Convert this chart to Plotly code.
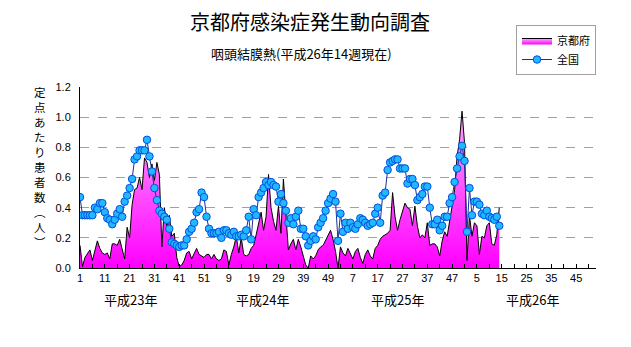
import plotly.graph_objects as go

# ---------------- data ----------------
weeks = list(range(1, 171))  # continuous week index: 平成23年第1週 .. 平成26年第14週

kyoto = [
    0.15, 0.01, 0.07, 0.10, 0.12, 0.05, 0.12, 0.18, 0.13, 0.10,
    0.09, 0.10, 0.06, 0.16, 0.16, 0.15, 0.19, 0.13, 0.06, 0.27,
    0.20, 0.42, 0.52, 0.53, 0.60, 0.52, 0.73, 0.70, 0.60, 0.69,
    0.58, 0.70, 0.62, 0.14, 0.40, 0.28, 0.35, 0.21, 0.23, 0.07,
    0.01, 0.02, 0.05, 0.10, 0.11, 0.06, 0.10, 0.13, 0.09, 0.08,
    0.07, 0.09, 0.09, 0.06, 0.09, 0.06, 0.05, 0.06, 0.12, 0.11,
    0.02, 0.09, 0.14, 0.21, 0.10, 0.20, 0.09, 0.08, 0.09, 0.13,
    0.15, 0.22, 0.30, 0.37, 0.25, 0.34, 0.62, 0.40, 0.31, 0.25,
    0.41, 0.23, 0.59, 0.34, 0.12, 0.16, 0.19, 0.12, 0.19, 0.14,
    0.08, 0.02, 0.00, 0.08, 0.06, 0.08, 0.12, 0.14, 0.15, 0.18,
    0.22, 0.25, 0.19, 0.11, 0.00, 0.14, 0.10, 0.08, 0.13, 0.09,
    0.06, 0.11, 0.13, 0.07, 0.03, 0.09, 0.12, 0.08, 0.06, 0.13,
    0.15, 0.19, 0.21, 0.22, 0.23, 0.25, 0.50, 0.34, 0.25, 0.32,
    0.37, 0.43, 0.40, 0.39, 0.28, 0.41, 0.28, 0.20, 0.22, 0.20,
    0.30, 0.15, 0.16, 0.16, 0.14, 0.08, 0.18, 0.24, 0.21, 0.30,
    0.41, 0.52, 0.74, 0.85, 1.04, 0.83, 0.05, 0.35, 0.21, 0.30,
    0.28, 0.09, 0.21, 0.20, 0.28, 0.30, 0.16, 0.15, 0.22, 0.40,
]

national = [
    0.47, 0.35, 0.35, 0.35, 0.35, 0.35, 0.40, 0.39, 0.43, 0.43,
    0.37, 0.33, 0.32, 0.29, 0.32, 0.36, 0.39, 0.34, 0.44, 0.48,
    0.53, 0.59, 0.72, 0.74, 0.78, 0.78, 0.78, 0.85, 0.74, 0.64,
    0.53, 0.45, 0.38, 0.36, 0.34, 0.32, 0.26, 0.17, 0.16, 0.15,
    0.14, 0.15, 0.15, 0.19, 0.24, 0.26, 0.30, 0.37, 0.39, 0.50,
    0.47, 0.34, 0.26, 0.23, 0.23, 0.23, 0.24, 0.20, 0.25, 0.25,
    0.23, 0.22, 0.24, 0.21, 0.21, 0.22, 0.21, 0.25, 0.34, 0.19,
    0.39, 0.35, 0.47, 0.50, 0.53, 0.57, 0.55, 0.57, 0.55, 0.54,
    0.44, 0.49, 0.43, 0.38, 0.30, 0.33, 0.29, 0.34, 0.38, 0.26,
    0.26, 0.21, 0.15, 0.18, 0.21, 0.19, 0.27, 0.30, 0.33, 0.38,
    0.43, 0.46, 0.49, 0.44, 0.18, 0.36, 0.24, 0.30, 0.26, 0.30,
    0.27, 0.26, 0.29, 0.33, 0.32, 0.30, 0.28, 0.29, 0.30, 0.36,
    0.40, 0.30, 0.48, 0.50, 0.65, 0.70, 0.71, 0.72, 0.72, 0.66,
    0.66, 0.66, 0.56, 0.59, 0.59, 0.55, 0.45, 0.47, 0.49, 0.54,
    0.54, 0.40, 0.29, 0.29, 0.32, 0.25, 0.28, 0.34, 0.34, 0.43,
    0.47, 0.57, 0.66, 0.74, 0.81, 0.71, 0.24, 0.53, 0.35, 0.44,
    0.44, 0.42, 0.36, 0.35, 0.38, 0.34, 0.33, 0.32, 0.34, 0.28,
]

tick_positions = list(range(1, 210, 5))
tick_labels = ["1", "11", "21", "31", "41", "51", "9", "19", "29", "39", "49",
               "7", "17", "27", "37", "47", "5", "15", "25", "35", "45"]
year_labels = ["平成23年", "平成24年", "平成25年", "平成26年"]
y_title_chars = ["定", "点", "あ", "た", "り", "患", "者", "数", "︵", "人", "︶"]

# ---------------- layout helpers ----------------
W, H = 631, 347
L, R, T, B = 80, 35, 87, 79
PW, PH = W - L - R, H - T - B


def px_x(x):
    return (x - L) / PW


def px_y(y):
    return (H - B - y) / PH


CJK = "Noto Sans CJK JP"

ticktext = []
k = 0
for i, v in enumerate(tick_positions):
    if i % 2 == 0 and k < len(tick_labels):
        ticktext.append(tick_labels[k])
        k += 1
    else:
        ticktext.append("")

fig = go.Figure()

fig.add_trace(go.Scatter(
    x=weeks, y=kyoto, name="京都府", mode="lines",
    line=dict(color="#000000", width=1),
    fill="tozeroy",
    fillgradient=dict(type="vertical", start=0, stop=1.05,
                      colorscale=[[0, "#ff00ff"], [1, "#ffa8ff"]]),
))

fig.add_trace(go.Scatter(
    x=weeks, y=national, name="全国", mode="lines+markers",
    line=dict(color="#1a2f9a", width=1),
    marker=dict(symbol="circle", size=7.5, color="#22b8ff",
                line=dict(color="#0050e0", width=1)),
))

annotations = [
    dict(text="京都府感染症発生動向調査", x=px_x(310), y=px_y(22), xref="paper", yref="paper",
         showarrow=False, font=dict(family=CJK, size=20, color="#000"),
         xanchor="center", yanchor="middle"),
    dict(text="咽頭結膜熱(平成26年14週現在)", x=px_x(301), y=px_y(54), xref="paper", yref="paper",
         showarrow=False, font=dict(family=CJK, size=13, color="#000"),
         xanchor="center", yanchor="middle"),
]
year_centers = [130, 262.5, 397, 532]
for lab, cx in zip(year_labels, year_centers):
    annotations.append(dict(text=lab, x=px_x(cx), y=px_y(299), xref="paper", yref="paper",
                            showarrow=False, font=dict(family=CJK, size=13, color="#000"),
                            xanchor="center", yanchor="middle"))
annotations.append(dict(text="<br>".join(y_title_chars), x=px_x(40), y=px_y(167),
                        xref="paper", yref="paper", showarrow=False,
                        font=dict(family=CJK, size=11.5, color="#000"),
                        xanchor="center", yanchor="middle", align="center"))

fig.update_layout(
    width=W, height=H,
    margin=dict(l=L, r=R, t=T, b=B, pad=0),
    paper_bgcolor="#ffffff", plot_bgcolor="#ffffff",
    showlegend=True,
    legend=dict(x=px_x(516), y=px_y(25), xanchor="left", yanchor="top",
                bordercolor="#a0a0a0", borderwidth=1, bgcolor="#ffffff",
                font=dict(family=CJK, size=11, color="#000"),
                tracegroupgap=0, itemwidth=30),
    annotations=annotations,
    xaxis=dict(range=[1, 209], tickmode="array", tickvals=tick_positions, ticktext=ticktext,
               ticks="inside", ticklen=4, tickcolor="#000", showgrid=False, zeroline=False,
               showline=True, linecolor="#000", linewidth=1,
               tickfont=dict(family="Liberation Sans", size=11, color="#000")),
    yaxis=dict(range=[0, 1.2], tickmode="linear", tick0=0, dtick=0.2, tickformat=".1f",
               ticks="", showgrid=True, gridcolor="#a0a0a0", griddash="dash", gridwidth=1,
               zeroline=False, showline=True, linecolor="#000", linewidth=1,
               tickfont=dict(family="Liberation Sans", size=11, color="#000"), ticklabelstandoff=6),
)

fig.write_html("out.html")
